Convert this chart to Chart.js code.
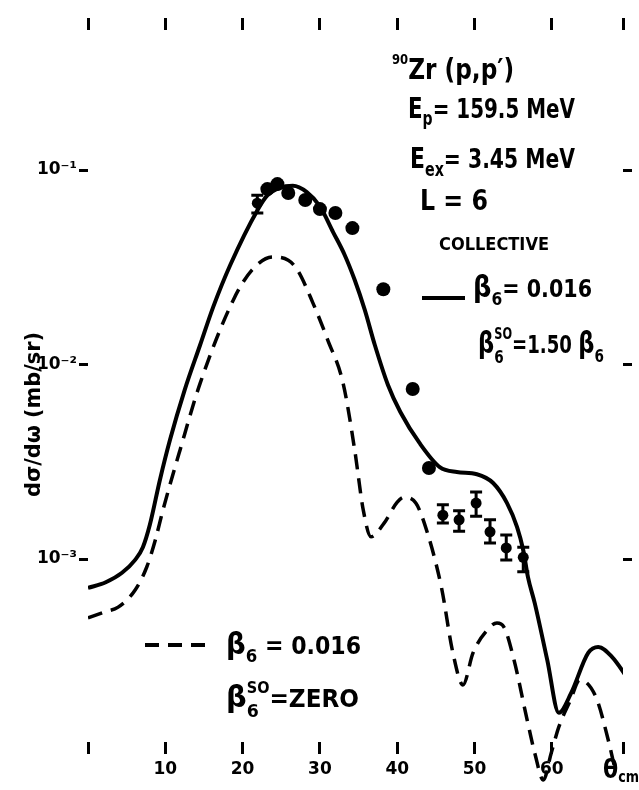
<!DOCTYPE html>
<html>
<head>
<meta charset="utf-8">
<script src="https://cdn.jsdelivr.net/npm/chart.js@4/dist/chart.umd.min.js"></script>
<style>
body { margin: 0; background: #fff; }
</style>
</head>
<body>
<canvas id="myChart" width="639" height="790"></canvas>
<script>
// theta (c.m., degrees) and d-sigma/d-omega (mb/sr)

// solid curve: collective, beta6 = 0.016, beta6(SO) = 1.50 beta6
const solidAngle = [0, 2.3, 4.4, 6.1, 7.1, 8.0, 9.3, 10.6, 12.5, 14.5, 16.2, 18.4, 21.9, 23.2, 24.8, 26.5, 28.3, 30.0, 31.7, 33.2,
  34.5, 35.8, 37.1, 38.8, 40.4, 42.9, 45.5, 47.7, 50.3, 52.4, 54.2, 55.5, 56.3, 56.9, 57.8, 59.4, 60.9, 62.5, 64.7, 66.0, 67.8, 69.7];
const solidSigma = [7.1e-4, 7.6e-4, 8.5e-4, 9.9e-4, 1.15e-3, 1.50e-3, 2.55e-3, 4.09e-3, 7.39e-3, 1.26e-2, 1.98e-2, 3.25e-2, 6.2e-2, 7.4e-2, 8.1e-2, 8.3e-2, 7.7e-2, 6.5e-2, 4.8e-2, 3.66e-2,
  2.72e-2, 1.91e-2, 1.26e-2, 7.85e-3, 5.70e-3, 3.94e-3, 2.97e-3, 2.80e-3, 2.73e-3, 2.46e-3, 1.94e-3, 1.46e-3, 1.11e-3, 8.1e-4, 5.9e-4, 3.03e-4, 1.62e-4, 2.05e-4, 3.29e-4, 3.53e-4, 3.13e-4, 2.47e-4];

// dashed curve: beta6 = 0.016, beta6(SO) = zero
const dashedAngle = [0, 2.2, 3.9, 6.1, 7.6, 8.7, 9.7, 11.9, 14.5, 18.8, 21.2, 23.9, 25.9, 27.1, 29.1, 31.0, 33.0, 34.5, 35.6, 36.6,
  38.3, 40.0, 40.9, 42.4, 43.5, 45.7, 47.2, 48.5, 49.8, 52.0, 52.9, 53.8, 55.1, 56.8, 57.8, 58.9, 59.9, 60.9, 62.4, 63.6, 65.7, 67.3, 68.2];
const dashedSigma = [4.98e-4, 5.35e-4, 5.66e-4, 6.93e-4, 9.1e-4, 1.25e-3, 1.79e-3, 3.63e-3, 8.0e-3, 2.15e-2, 3.06e-2, 3.57e-2, 3.44e-2, 3.06e-2, 2.07e-2, 1.34e-2, 8.0e-3, 3.63e-3, 1.79e-3, 1.30e-3,
  1.53e-3, 1.96e-3, 2.08e-3, 1.94e-3, 1.53e-3, 7.2e-4, 3.29e-4, 2.25e-4, 3.29e-4, 4.47e-4, 4.69e-4, 4.47e-4, 3.03e-4, 1.49e-4, 1.0e-4, 7.3e-5, 1.0e-4, 1.37e-4, 1.88e-4, 2.39e-4, 1.95e-4, 1.17e-4, 8.2e-5];

// measured points without visible error bars
const dotAngle = [23.2, 24.5, 25.9, 28.1, 30.0, 32.0, 34.2, 38.2, 42.0, 44.1];
const dotSigma = [0.0798, 0.0847, 0.0762, 0.0702, 0.0630, 0.0601, 0.0503, 0.0244, 7.48e-3, 2.94e-3];

// measured points with error bars
const errAngle = [21.9, 45.9, 48.0, 50.2, 52.0, 54.1, 56.3];
const errSigma = [0.0676, 1.68e-3, 1.59e-3, 1.94e-3, 1.38e-3, 1.14e-3, 1.02e-3];
const errHigh = [0.0743, 1.90e-3, 1.77e-3, 2.21e-3, 1.59e-3, 1.33e-3, 1.15e-3];
const errLow = [0.0601, 1.53e-3, 1.39e-3, 1.66e-3, 1.21e-3, 9.9e-4, 8.6e-4];

// axis ticks
const xTicks = [0, 10, 20, 30, 40, 50, 60];
const yTicks = [1e-1, 1e-2, 1e-3];
const yTickLabels = ['10⁻¹', '10⁻²', '10⁻³'];

const xMin = 0, xMax = 69.2;
const yMin = 1.146e-4, yMax = 0.525;

const toPoints = (xs, ys) => xs.map((x, i) => ({x: x, y: ys[i]}));

const font = (size) => 'bold ' + size + "px 'DejaVu Sans'";

// draws a row of text pieces squeezed to a given width (hand lettering is narrow)
function drawRuns(ctx, runs, x, y, width) {
  let total = 0;
  runs.forEach(r => {
    ctx.font = font(r.size);
    r.w = ctx.measureText(r.t).width;
    if (!r.back) total += r.w;
  });
  ctx.save();
  ctx.translate(x, y);
  ctx.scale(width / total, 1);
  ctx.fillStyle = '#000';
  ctx.textAlign = 'left';
  ctx.textBaseline = 'alphabetic';
  let cx = 0;
  runs.forEach(r => {
    ctx.font = font(r.size);
    ctx.fillText(r.t, cx, r.dy || 0);
    if (!r.back) cx += r.w;
  });
  ctx.restore();
}

const errorBars = {
  id: 'errorBars',
  afterDatasetsDraw(chart) {
    const ctx = chart.ctx;
    const xs = chart.scales.x, ys = chart.scales.y;
    ctx.save();
    ctx.strokeStyle = '#000';
    ctx.lineWidth = 3;
    errAngle.forEach((a, i) => {
      const px = xs.getPixelForValue(a);
      const top = ys.getPixelForValue(errHigh[i]);
      const bot = ys.getPixelForValue(errLow[i]);
      ctx.beginPath();
      ctx.moveTo(px, top); ctx.lineTo(px, bot);
      ctx.moveTo(px - 6, top); ctx.lineTo(px + 6, top);
      ctx.moveTo(px - 6, bot); ctx.lineTo(px + 6, bot);
      ctx.stroke();
    });
    ctx.restore();
  }
};

const annotations = {
  id: 'annotations',
  afterDraw(chart) {
    const ctx = chart.ctx;
    drawRuns(ctx, [{t: '90', size: 14, dy: -15}, {t: 'Zr (p,p′)', size: 28}], 392, 79, 122);
    drawRuns(ctx, [{t: 'E', size: 29}, {t: 'p', size: 19, dy: 7}, {t: '= 159.5 MeV', size: 27}], 408, 118, 167);
    drawRuns(ctx, [{t: 'E', size: 29}, {t: 'ex', size: 19, dy: 8}, {t: '= 3.45 MeV', size: 27}], 410, 168, 165);
    drawRuns(ctx, [{t: 'L = 6', size: 29}], 420, 210, 68);
    drawRuns(ctx, [{t: 'COLLECTIVE', size: 18}], 439, 250, 110);

    drawRuns(ctx, [{t: 'β', size: 30}, {t: '6', size: 18, dy: 8}, {t: '= 0.016', size: 24}], 473, 297, 119);
    drawRuns(ctx, [{t: 'β', size: 30}, {t: '6', size: 18, dy: 10, back: true}, {t: 'SO', size: 15, dy: -14},
      {t: '=1.50 ', size: 24}, {t: 'β', size: 30}, {t: '6', size: 18, dy: 9}], 478, 353, 126);

    drawRuns(ctx, [{t: 'β', size: 30}, {t: '6', size: 18, dy: 8}, {t: ' = 0.016', size: 24}], 226, 654, 135);
    drawRuns(ctx, [{t: 'β', size: 30}, {t: '6', size: 18, dy: 10, back: true}, {t: 'SO', size: 15, dy: -14},
      {t: '=ZERO', size: 24}], 226, 707, 133);

    drawRuns(ctx, [{t: 'θ', size: 26}, {t: 'cm', size: 15, dy: 4}], 603, 778, 36);

    // y axis title
    ctx.save();
    ctx.translate(40, 497);
    ctx.rotate(-Math.PI / 2);
    drawRuns(ctx, [{t: 'dσ/dω (mb/sr)', size: 22}], 0, 0, 165);
    ctx.restore();

    // legend samples
    ctx.save();
    ctx.strokeStyle = '#000';
    ctx.lineWidth = 4;
    ctx.beginPath();
    ctx.moveTo(422, 298); ctx.lineTo(465, 298);
    ctx.stroke();
    ctx.setLineDash([14, 9]);
    ctx.beginPath();
    ctx.moveTo(145, 645); ctx.lineTo(206, 645);
    ctx.stroke();
    ctx.restore();
  }
};

const tickGrid = (len) => ({drawOnChartArea: false, drawTicks: true, tickLength: len, color: '#000', lineWidth: 3});

const xAxis = (pos, withLabels, h) => ({
  type: 'linear',
  axis: 'x',
  position: pos,
  min: xMin,
  max: xMax,
  afterBuildTicks: s => { s.ticks = xTicks.concat([xMax]).map(v => ({value: v})); },
  afterFit: s => { s.height = h; },
  border: {display: false},
  grid: tickGrid(12),
  ticks: {
    autoSkip: false,
    maxRotation: 0,
    padding: 5,
    color: '#000',
    font: {family: "'DejaVu Sans'", size: 17, weight: 'bold'},
    callback: v => (withLabels && v > 0 && v <= 60) ? String(v) : ''
  }
});

const yAxis = (pos, withLabels, w) => ({
  type: 'logarithmic',
  axis: 'y',
  position: pos,
  min: yMin,
  max: yMax,
  afterBuildTicks: s => { s.ticks = yTicks.map(v => ({value: v})); },
  afterFit: s => { s.width = w; },
  border: {display: false},
  grid: tickGrid(9),
  ticks: {
    autoSkip: false,
    padding: 2,
    color: '#000',
    font: {family: "'DejaVu Sans'", size: 17, weight: 'bold'},
    callback: (v, i) => withLabels ? yTickLabels[i] : ''
  }
});

const myChart = document.getElementById('myChart');

new Chart(myChart, {
  type: 'scatter',
  data: {
    datasets: [
      {
        label: 'data',
        data: toPoints(dotAngle, dotSigma),
        backgroundColor: '#000',
        borderColor: '#000',
        pointRadius: 7,
        pointBorderWidth: 0
      },
      {
        label: 'data with errors',
        data: toPoints(errAngle, errSigma),
        backgroundColor: '#000',
        borderColor: '#000',
        pointRadius: 5.5,
        pointBorderWidth: 0
      },
      {
        label: 'beta6 = 0.016, SO = 1.50 beta6',
        data: toPoints(solidAngle, solidSigma),
        showLine: true,
        borderColor: '#000',
        borderWidth: 4,
        pointRadius: 0,
        tension: 0.4,
        cubicInterpolationMode: 'monotone'
      },
      {
        label: 'beta6 = 0.016, SO = zero',
        data: toPoints(dashedAngle, dashedSigma),
        showLine: true,
        borderColor: '#000',
        borderWidth: 3.5,
        borderDash: [15, 9],
        pointRadius: 0,
        tension: 0.4,
        cubicInterpolationMode: 'monotone',
        // the dashes run a little below the frame in the original
        clip: {left: 0, top: 0, right: 10, bottom: 40}
      }
    ]
  },
  options: {
    responsive: false,
    animation: false,
    layout: {padding: 0},
    plugins: {
      legend: {display: false},
      tooltip: {enabled: false}
    },
    scales: {
      x: xAxis('bottom', true, 48),
      xTop: xAxis('top', false, 30),
      y: yAxis('left', true, 88),
      yRight: yAxis('right', false, 16)
    }
  },
  plugins: [errorBars, annotations]
});
</script>
</body>
</html>
